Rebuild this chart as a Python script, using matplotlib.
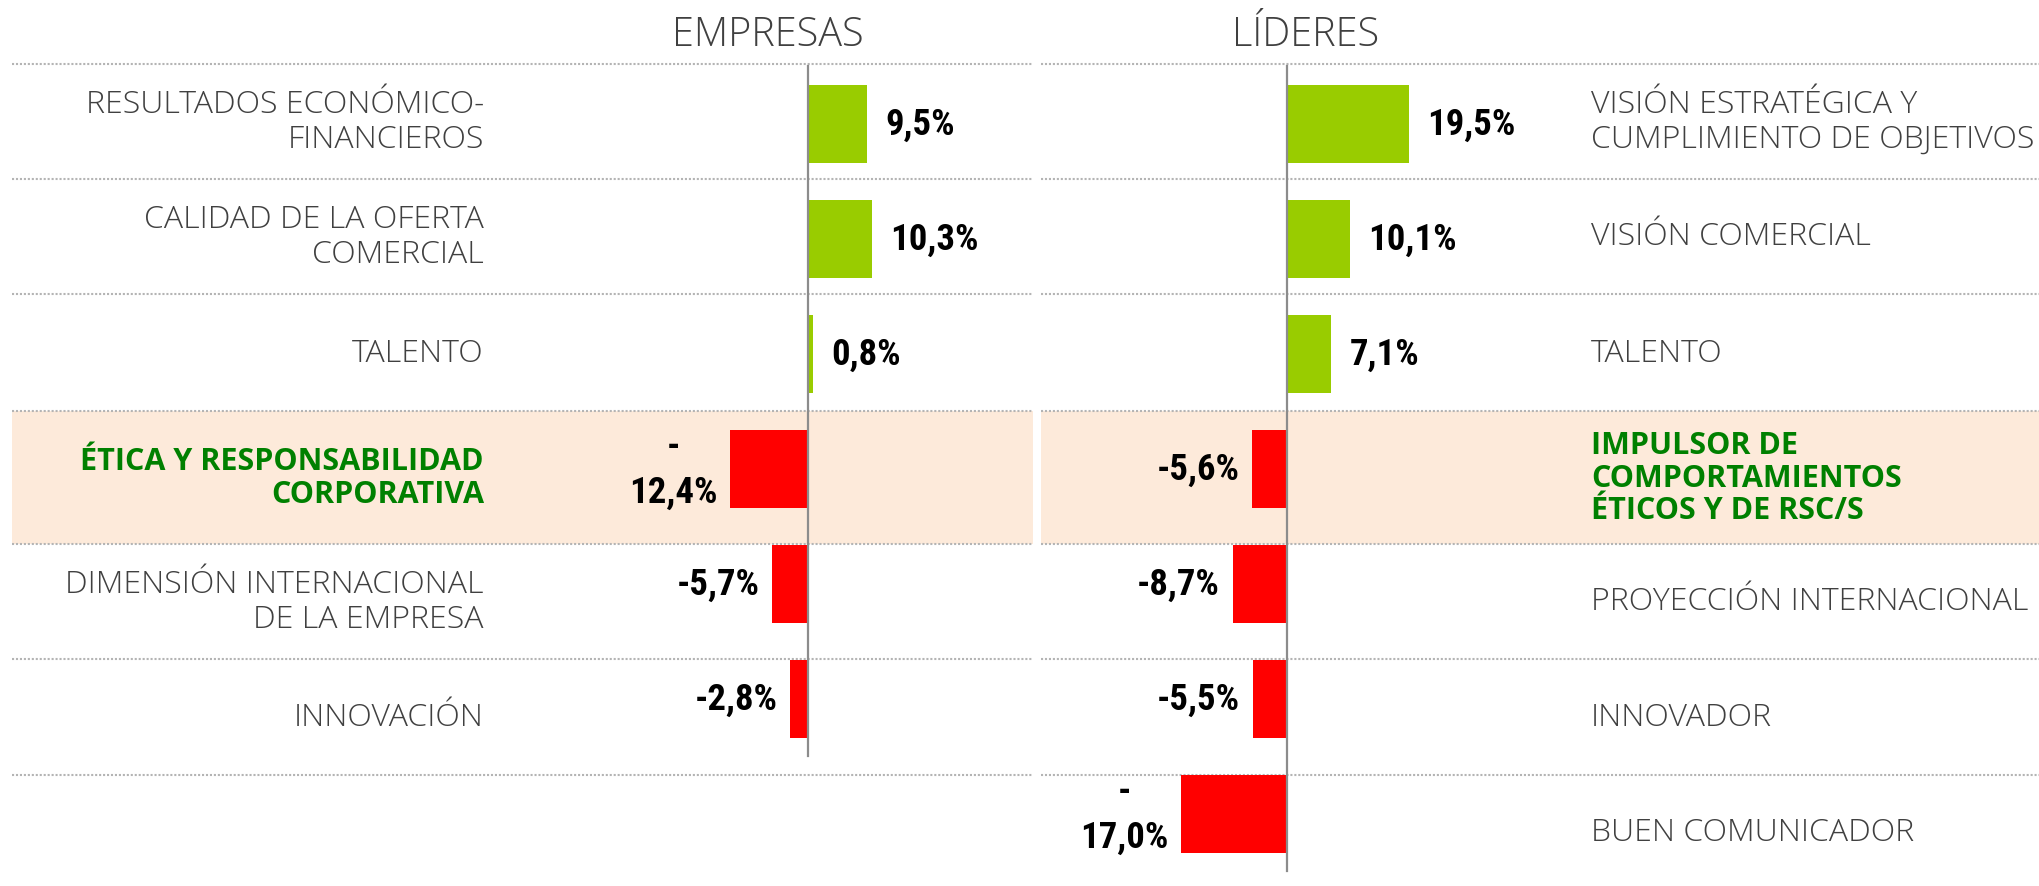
import matplotlib
matplotlib.use("Agg")
import matplotlib.pyplot as plt

# datos
emp_labels = ["RESULTADOS ECONÓMICO-\nFINANCIEROS", "CALIDAD DE LA OFERTA\nCOMERCIAL", "TALENTO",
              "ÉTICA Y RESPONSABILIDAD\nCORPORATIVA", "DIMENSIÓN INTERNACIONAL\nDE LA EMPRESA", "INNOVACIÓN"]
emp_values = [9.5, 10.3, 0.8, -12.4, -5.7, -2.8]

lid_labels = ["VISIÓN ESTRATÉGICA Y\nCUMPLIMIENTO DE OBJETIVOS", "VISIÓN COMERCIAL", "TALENTO",
              "IMPULSOR DE\nCOMPORTAMIENTOS\nÉTICOS Y DE RSC/S", "PROYECCIÓN INTERNACIONAL",
              "INNOVADOR", "BUEN COMUNICADOR"]
lid_values = [19.5, 10.1, 7.1, -5.6, -8.7, -5.5, -17.0]

highlight_row = 3

# mise en page (px de la figure)
W, H = 2040, 887
scale = 6.25                 # px par point de %
split = 1037
axis_left_px, axis_right_px = 808, 1287
row0_px, row_px = 125, 115
cell_edges = [-0.522, 0.478, 1.478, 2.496, 3.652, 4.652, 5.661, 6.653]

GREEN, RED, TXT, HL_TXT = "#99CC00", "#FF0000", "#404040", "#008000"
BAND, DOTS, AXIS = "#FDEADA", "#B4B4B4", "#8C8C8C"
cat_font = ["Open Sans", "DejaVu Sans"]
val_font = ["Liberation Sans Narrow", "DejaVu Sans Condensed", "Roboto Condensed", "DejaVu Sans"]


def fmt(v):
    s = f"{v:.1f}".replace(".", ",") + "%"
    if v <= -10:
        s = "-\n" + s[1:]
    return s


fig = plt.figure(figsize=(W / 100, H / 100), dpi=100)
ax1 = fig.add_axes([0, 0, split / W, 1])
ax2 = fig.add_axes([split / W, 0, 1 - split / W, 1])

ylim = ((H - row0_px) / row_px, -row0_px / row_px)
ax1.set_xlim(-axis_left_px / scale, (split - axis_left_px) / scale)
ax2.set_xlim((split - axis_right_px) / scale, (W - axis_right_px) / scale)

panels = [
    (ax1, emp_labels, emp_values, "right", (484 - axis_left_px) / scale, (12 / split, 1033 / split), 5.496),
    (ax2, lid_labels, lid_values, "left", (1591 - axis_right_px) / scale, (4 / (W - split), 1.0), 6.496),
]

for ax, labels, values, ha, xlab, (xmin, xmax), yend in panels:
    ax.set_ylim(*ylim)
    ax.axis("off")
    ax.axhspan(cell_edges[highlight_row], cell_edges[highlight_row + 1], xmin=xmin, xmax=xmax,
               color=BAND, lw=0, zorder=0)
    for e in cell_edges[:-1]:
        ax.axhline(e, xmin=xmin, xmax=xmax, color=DOTS, lw=1.5, ls=(0, (1, 0.9)), zorder=1)
    rows = list(range(len(values)))
    ax.barh(rows, values, height=0.67, color=[GREEN if v > 0 else RED for v in values], zorder=2)
    ax.plot([0, 0], [cell_edges[0] + 0.02, yend], color=AXIS, lw=1.6, zorder=3)
    for i, (lab, v) in enumerate(zip(labels, values)):
        yc = (cell_edges[i] + cell_edges[i + 1]) / 2
        hl = i == highlight_row
        ax.text(xlab, yc, lab, ha=ha, va="center", fontsize=22 if hl else 23,
                family=cat_font, color=HL_TXT if hl else TXT,
                weight="bold" if hl else "light", linespacing=1.1)
        off = 13 if v > 0 else -9
        ax.annotate(fmt(v), (v, i), xytext=(off, 0), textcoords="offset points",
                    ha="left" if v > 0 else "right", va="center", multialignment="center",
                    fontsize=26.5, weight="bold", family=val_font, color="black", linespacing=1.35)

fig.text(768 / W, 1 - 35 / H, "EMPRESAS", ha="center", va="center", fontsize=28.5,
         family=cat_font, weight="light", color=TXT)
fig.text(1306 / W, 1 - 35 / H, "LÍDERES", ha="center", va="center", fontsize=28.5,
         family=cat_font, weight="light", color=TXT)

fig.savefig("out.png", dpi=100)
